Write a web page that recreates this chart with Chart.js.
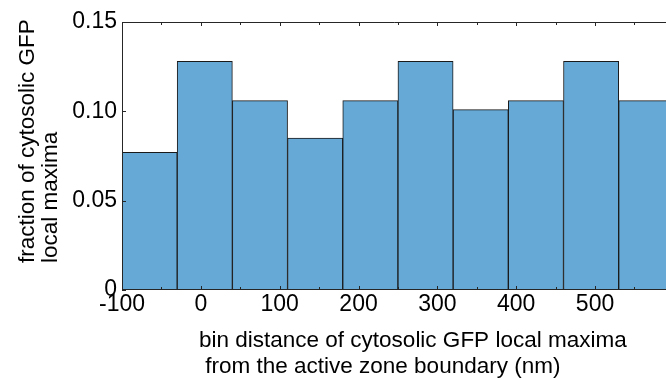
<!DOCTYPE html>
<html>
<head>
<meta charset="utf-8">
<script src="https://cdn.jsdelivr.net/npm/chart.js@4/dist/chart.umd.min.js"></script>
<style>
  html, body { margin: 0; padding: 0; background: #fff; overflow: hidden; }
  #wrap { position: relative; width: 666px; height: 380px; }
</style>
</head>
<body>
<div id="wrap"><canvas id="histChart"></canvas></div>
<script>
// histogram bins (nm) and fraction per bin
const binEdges = [-100, -30, 40, 110, 180, 250, 320, 390, 460, 530, 600];
const fractions = [0.077, 0.128, 0.106, 0.085, 0.106, 0.128, 0.101, 0.106, 0.128, 0.106];

// axis ticks
const xTicks = [-100, 0, 100, 200, 300, 400, 500];
const yTicks = [0, 0.05, 0.10, 0.15];
const yTickLabels = ['0', '0.05', '0.10', '0.15'];

const xTitle = ['bin distance of cytosolic GFP local maxima', ' from the active zone boundary (nm)'];
const yTitle = ['fraction of cytosolic GFP', 'local maxima'];

const FONT = '"Liberation Sans", Arial, sans-serif';
const INK = '#262626';

const bars = fractions.map((f, i) => ({ x: (binEdges[i] + binEdges[i + 1]) / 2, y: f }));

// MATLAB style box: top line, inward ticks, left-aligned axis titles
const axesBox = {
    id: 'axesBox',
    afterDatasetsDraw(chart) {
        const { ctx, chartArea: a, scales: { x, y } } = chart;
        ctx.save();
        ctx.strokeStyle = INK;
        ctx.lineWidth = 1;
        ctx.beginPath();
        ctx.moveTo(a.right, a.top + 0.5);
        ctx.lineTo(a.left + 0.5, a.top + 0.5);
        ctx.lineTo(a.left + 0.5, a.bottom - 0.5);
        ctx.lineTo(a.right, a.bottom - 0.5);
        ctx.stroke();

        // x ticks (major + half-step minor) on top and bottom
        ctx.beginPath();
        xTicks.forEach(v => {
            [v, v + 50].forEach((t, k) => {
                const px = Math.round(x.getPixelForValue(t)) + 0.5;
                if (px < a.left || px > a.right) return;
                const len = k === 0 ? 4 : 3;
                ctx.moveTo(px, a.top);
                ctx.lineTo(px, a.top + len);
                ctx.moveTo(px, a.bottom);
                ctx.lineTo(px, a.bottom - len);
            });
        });
        // y ticks on the left
        yTicks.forEach(v => {
            const py = Math.round(y.getPixelForValue(v)) + 0.5;
            ctx.moveTo(a.left, py);
            ctx.lineTo(a.left + 4, py);
        });
        ctx.stroke();

        ctx.fillStyle = '#000';
        ctx.font = '22.5px ' + FONT;
        ctx.textAlign = 'left';
        ctx.textBaseline = 'middle';
        ctx.fillText(xTitle[0], 199, 341);
        ctx.fillText(xTitle[1], 199, 367);

        ctx.translate(28, 263);
        ctx.rotate(-Math.PI / 2);
        ctx.fillText(yTitle[0], 0, 0);
        ctx.fillText(yTitle[1], 0, 23);
        ctx.restore();
    }
};

new Chart(document.getElementById('histChart'), {
    type: 'bar',
    data: {
        datasets: [{
            label: 'fraction',
            data: bars,
            backgroundColor: 'rgb(102, 169, 214)',
            borderColor: '#1a1a1a',
            borderWidth: 1,
            borderSkipped: false,
            barPercentage: 1,
            categoryPercentage: 1
        }]
    },
    options: {
        responsive: true,
        maintainAspectRatio: false,
        animation: false,
        layout: { padding: { top: 22, left: 0, right: 0, bottom: 0 } },
        plugins: {
            legend: { display: false },
            tooltip: { enabled: false }
        },
        scales: {
            x: {
                type: 'linear',
                offset: false,
                min: -100,
                max: 590,
                grid: { display: false, drawTicks: false, offset: false },
                border: { display: false },
                afterBuildTicks: s => { s.ticks = xTicks.map(v => ({ value: v })); },
                afterFit: s => { s.height = 90; },
                ticks: {
                    color: '#000',
                    padding: 1,
                    maxRotation: 0,
                    font: { family: FONT, size: 23 },
                    callback: v => String(v)
                }
            },
            y: {
                min: 0,
                max: 0.15,
                grid: { display: false, drawTicks: false },
                border: { display: false },
                afterBuildTicks: s => { s.ticks = yTicks.map(v => ({ value: v })); },
                afterFit: s => { s.width = 122; },
                ticks: {
                    color: '#000',
                    padding: 5,
                    font: { family: FONT, size: 23 },
                    callback: (v, i) => yTickLabels[i]
                }
            }
        }
    },
    plugins: [axesBox]
});
</script>
</body>
</html>
